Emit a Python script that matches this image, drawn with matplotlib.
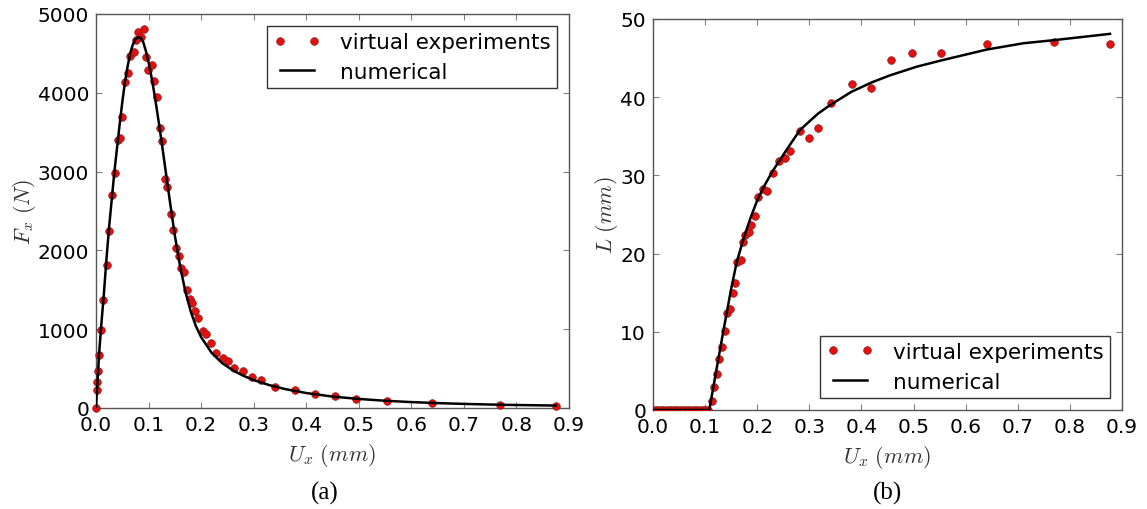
import matplotlib
matplotlib.use("Agg")
import matplotlib.pyplot as plt

# ---------------- data: panel (a) ----------------
fx_exp_u = [0.0, 0.002, 0.002, 0.003, 0.006, 0.010, 0.013, 0.021, 0.025, 0.030, 0.036, 0.041,
            0.045, 0.049, 0.056, 0.060, 0.065, 0.072, 0.076, 0.080, 0.085, 0.091, 0.095, 0.099,
            0.107, 0.111, 0.116, 0.121, 0.126, 0.131, 0.136, 0.142, 0.147, 0.152, 0.157, 0.162,
            0.167, 0.173, 0.178, 0.183, 0.188, 0.194, 0.203, 0.210, 0.218, 0.229, 0.241, 0.252,
            0.263, 0.280, 0.297, 0.314, 0.340, 0.379, 0.417, 0.455, 0.494, 0.553, 0.639, 0.769,
            0.875]
fx_exp_f = [0, 232, 326, 473, 676, 986, 1374, 1818, 2250, 2703, 2978, 3401,
            3422, 3689, 4133, 4251, 4463, 4514, 4666, 4776, 4708, 4810, 4450, 4293,
            4357, 4154, 3947, 3557, 3388, 2902, 2805, 2466, 2263, 2034, 1925, 1781,
            1726, 1493, 1379, 1328, 1227, 1142, 977, 935, 821, 694, 638, 592,
            503, 469, 397, 355, 271, 232, 178, 148, 118, 93, 63, 42,
            29]

fx_num_u = [0, 0.003, 0.006, 0.01, 0.015, 0.02, 0.025, 0.03, 0.035, 0.04, 0.045, 0.05,
            0.055, 0.06, 0.065, 0.07, 0.075, 0.08, 0.085, 0.09, 0.095, 0.1, 0.105, 0.11,
            0.115, 0.12, 0.125, 0.13, 0.14, 0.15, 0.16, 0.17, 0.18, 0.19, 0.2, 0.22,
            0.24, 0.26, 0.28, 0.3, 0.33, 0.36, 0.4, 0.45, 0.5, 0.55, 0.6, 0.65,
            0.7, 0.75, 0.8, 0.875]
fx_num_f = [0, 350, 700, 1050, 1450, 1900, 2300, 2650, 3000, 3300, 3600, 3880,
            4130, 4330, 4500, 4610, 4680, 4705, 4700, 4640, 4530, 4390, 4220, 4030,
            3820, 3600, 3370, 3130, 2650, 2190, 1800, 1480, 1230, 1040, 900, 700,
            570, 480, 410, 355, 290, 240, 190, 145, 115, 92, 75, 62,
            52, 44, 38, 31]

# ---------------- data: panel (b) ----------------
l_exp_u = [0.0, 0.005, 0.01, 0.015, 0.02, 0.025, 0.03, 0.035, 0.04, 0.045, 0.05, 0.055,
           0.06, 0.065, 0.07, 0.075, 0.08, 0.085, 0.09, 0.095, 0.10, 0.105,
           0.1126, 0.1177, 0.1222, 0.1267, 0.133, 0.138, 0.1414, 0.148, 0.1536, 0.158,
           0.1618, 0.169, 0.1727, 0.177, 0.184, 0.1887, 0.196, 0.202, 0.2105, 0.219,
           0.2297, 0.2425, 0.2527, 0.2636, 0.282, 0.2994, 0.316, 0.341, 0.381, 0.419,
           0.456, 0.4965, 0.553, 0.641, 0.770, 0.8766]
l_exp_l = [0, 0, 0, 0, 0, 0, 0, 0, 0, 0, 0, 0,
           0, 0, 0, 0, 0, 0, 0, 0, 0, 0,
           1.1, 3.0, 4.6, 6.5, 8.0, 10.1, 12.4, 12.95, 15.0, 16.2,
           18.9, 19.2, 21.5, 22.4, 22.7, 23.6, 24.8, 27.3, 28.3, 28.0,
           30.3, 31.8, 32.2, 33.1, 35.7, 34.8, 36.0, 39.2, 41.7, 41.2,
           44.7, 45.65, 45.65, 46.8, 47.0, 46.8]

l_num_u = [0, 0.108, 0.12, 0.135, 0.15, 0.1606, 0.175, 0.189, 0.2, 0.213, 0.23,
           0.2566, 0.282, 0.30, 0.3167, 0.34, 0.381, 0.42, 0.455, 0.506, 0.553, 0.641,
           0.711, 0.770, 0.877]
l_num_l = [0, 0, 4.5, 10.1, 15.5, 18.9, 22.2, 24.9, 26.8, 28.6, 30.6,
           33.3, 35.8, 36.9, 37.9, 39.0, 40.7, 41.9, 42.8, 43.9, 44.7, 46.1,
           46.9, 47.3, 48.1]

x_ticks = [0.0, 0.1, 0.2, 0.3, 0.4, 0.5, 0.6, 0.7, 0.8, 0.9]

plt.rcParams['mathtext.fontset'] = 'cm'
plt.rcParams['font.family'] = 'DejaVu Sans'

fig = plt.figure(figsize=(11.47, 5.10), dpi=100)
fig.patch.set_facecolor('white')

ax1 = fig.add_axes([96/1147, 1-409/510, 473/1147, 394/510])
ax2 = fig.add_axes([653/1147, 1-411/510, 469/1147, 391/510])


def style(ax):
    ax.tick_params(direction='in', top=True, right=True, length=4, width=0.8,
                   color='#808080', labelsize=14.5, pad=5)
    for s in ax.spines.values():
        s.set_color('#555555')
        s.set_linewidth(1.0)


mk = dict(linestyle='none', marker='o', markersize=5.5, markerfacecolor='#e41010',
          markeredgecolor='#8a1a1a', markeredgewidth=0.5)

leg_kw = dict(numpoints=2, fontsize=15.5, fancybox=False, framealpha=1,
              edgecolor='#333333', borderaxespad=0.55, handlelength=2.2,
              handletextpad=0.9, borderpad=0.3, labelspacing=0.45)

ax1.plot(fx_exp_u, fx_exp_f, label='virtual experiments', clip_on=False, zorder=3, **mk)
ax1.plot(fx_num_u, fx_num_f, color='black', lw=1.8, label='numerical', zorder=4)
ax1.set_xlim(0, 0.9)
ax1.set_ylim(0, 5000)
ax1.set_xticks(x_ticks)
ax1.set_yticks([0, 1000, 2000, 3000, 4000, 5000])
ax1.set_xlabel(r'$U_x\ (mm)$', fontsize=16, color='#333333', labelpad=5)
ax1.set_ylabel(r'$F_x\ (N)$', fontsize=16, color='#333333', labelpad=0)
style(ax1)
ax1.legend(loc='upper right', **leg_kw).get_frame().set_linewidth(1.0)

ax2.plot(l_exp_u, l_exp_l, label='virtual experiments', zorder=3, **mk)
ax2.plot(l_num_u, l_num_l, color='black', lw=1.8, label='numerical', zorder=4)
ax2.set_xlim(0, 0.9)
ax2.set_ylim(0, 50)
ax2.set_xticks(x_ticks)
ax2.set_yticks([0, 10, 20, 30, 40, 50])
ax2.set_xlabel(r'$U_x\ (mm)$', fontsize=16, color='#333333', labelpad=5)
ax2.set_ylabel(r'$L\ (mm)$', fontsize=16, color='#333333', labelpad=0)
style(ax2)
ax2.legend(loc='lower right', **leg_kw).get_frame().set_linewidth(1.0)

fig.text(325/1147, 1-493/510, '(a)', ha='center', va='center', fontsize=18,
         family='Liberation Serif')
fig.text(888/1147, 1-493/510, '(b)', ha='center', va='center', fontsize=18,
         family='Liberation Serif')

fig.savefig('out.png', dpi=100, facecolor='white')
